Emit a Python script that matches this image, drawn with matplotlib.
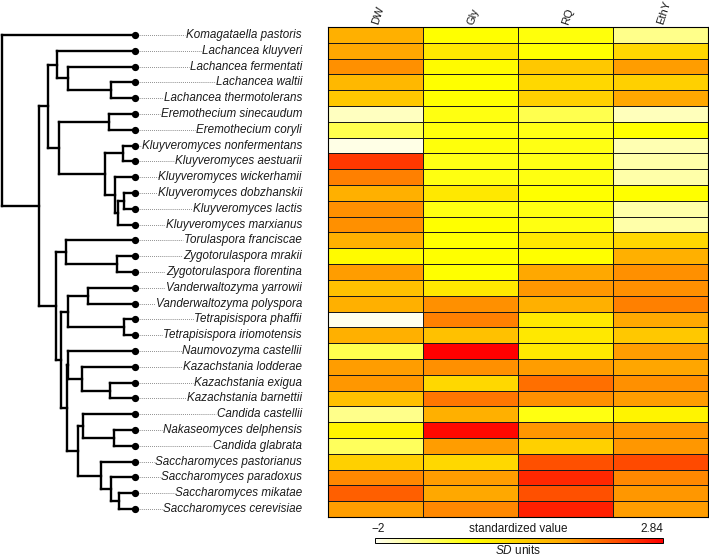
import matplotlib
matplotlib.use("Agg")
import matplotlib.pyplot as plt
import numpy as np
from matplotlib.colors import LinearSegmentedColormap, Normalize
from matplotlib.cm import ScalarMappable
from matplotlib.transforms import offset_copy

plt.rcParams['font.family'] = ['Liberation Sans', 'DejaVu Sans']
plt.rcParams['mathtext.fontset'] = 'custom'
plt.rcParams['mathtext.it'] = 'Liberation Sans:italic'
plt.rcParams['mathtext.rm'] = 'Liberation Sans'

# ---------------- data ----------------
tree_newick = ("(Komagataella_pastoris:133,(((Lachancea_kluyveri:78,(Lachancea_fermentati:67,"
               "(Lachancea_waltii:24,Lachancea_thermotolerans:24):43):11):9,((Eremothecium_sinecaudum:26,"
               "Eremothecium_coryli:26):50,((Kluyveromyces_nonfermentans:12,Kluyveromyces_aestuarii:12):18,"
               "(Kluyveromyces_wickerhamii:20,((Kluyveromyces_dobzhanskii:11,Kluyveromyces_lactis:11):6,"
               "Kluyveromyces_marxianus:17):3):10):46):11):9,((Torulaspora_franciscae:69,"
               "(Zygotorulaspora_mrakii:18,Zygotorulaspora_florentina:18):51):10,(((Vanderwaltozyma_yarrowii:47,"
               "Vanderwaltozyma_polyspora:47):20,(Tetrapisispora_phaffii:11,Tetrapisispora_iriomotensis:11):56):7,"
               "((Naumovozyma_castellii:67,(Kazachstania_lodderae:53,(Kazachstania_exigua:25,"
               "Kazachstania_barnettii:25):28):14):1,((Candida_castellii:52,(Nakaseomyces_delphensis:21,"
               "Candida_glabrata:21):31):5,(Saccharomyces_pastorianus:34,(Saccharomyces_paradoxus:24,"
               "(Saccharomyces_mikatae:16,Saccharomyces_cerevisiae:16):8):10):23):11):6):5):17):37);")

traits = ["DW", "Gly", "RQ", "EthY"]
dw = [1.03, 1.17, 1.43, 0.88, 0.60, -1.65, -0.89, -1.90, 2.29, 1.59, 1.03, 1.43, 1.43, 1.03, -0.30, 1.30,
      0.74, 1.03, -1.95, 1.03, -0.90, 1.30, 1.35, 0.74, -1.30, -0.20, -0.98, 0.45, 1.50, 1.90, 1.30]
gly = [-0.39, 0.03, -0.30, -0.39, -0.39, -0.49, -0.45, -0.45, -0.51, -0.50, 0.03, -0.50, -0.39, -0.39, -0.39, -0.39,
       0.03, 1.43, 1.59, 0.74, 2.84, 1.43, 0.31, 1.67, 1.03, 2.76, 1.30, 0.31, 1.30, 1.17, 1.50]
rq = [-0.45, -0.39, 0.60, 0.31, 0.45, -0.89, -0.51, -0.51, -0.51, -0.50, -0.39, -0.50, -0.50, 0.03, -0.39, 1.17,
      1.35, 1.03, 0.03, 0.03, 0.03, 1.30, 1.75, 1.43, -0.50, 1.35, 0.45, 2.06, 2.45, 2.06, 2.52]
ethy = [-1.30, 0.31, 1.30, 0.45, 1.17, -1.61, -0.39, -1.55, -1.50, -1.50, -0.39, -1.50, -1.50, 0.31, 1.03, 1.43,
        1.43, 1.59, 1.17, 0.60, 1.30, 1.20, 1.43, 1.30, -0.20, 1.35, 1.35, 2.12, 1.50, 1.35, 1.30]
vmin, vmax = -2, 2.84

# ---------------- newick parsing ----------------
def parse_newick(s):
    s = s.strip().rstrip(';')
    pos = [0]

    def node():
        children = []
        if s[pos[0]] == '(':
            pos[0] += 1
            while True:
                children.append(node())
                if s[pos[0]] == ',':
                    pos[0] += 1
                    continue
                if s[pos[0]] == ')':
                    pos[0] += 1
                    break
        start = pos[0]
        while pos[0] < len(s) and s[pos[0]] not in ',():':
            pos[0] += 1
        name = s[start:pos[0]]
        length = 0.0
        if pos[0] < len(s) and s[pos[0]] == ':':
            pos[0] += 1
            start = pos[0]
            while pos[0] < len(s) and s[pos[0]] not in ',()':
                pos[0] += 1
            length = float(s[start:pos[0]])
        return {'name': name.replace('_', ' '), 'len': length, 'children': children}
    return node()

root = parse_newick(tree_newick)
leaves = []

def layout(n, depth):
    n['x'] = depth
    if not n['children']:
        n['y'] = len(leaves)
        leaves.append(n)
    else:
        for c in n['children']:
            layout(c, depth + c['len'])
        n['y'] = (n['children'][0]['y'] + n['children'][-1]['y']) / 2.0

layout(root, 0.0)
nleaf = len(leaves)
tip_x = max(l['x'] for l in leaves)

# ---------------- figure ----------------
W, H = 709, 558
fig = plt.figure(figsize=(W / 100, H / 100), dpi=100)

def px_axes(x0, y0, x1, y1):
    return fig.add_axes([x0 / W, 1 - y1 / H, (x1 - x0) / W, (y1 - y0) / H])

top_px, bot_px = 27, 517
heat_left, heat_right = 328, 708
txt_color = '#1a1a1a'

# tree
axt = px_axes(0, top_px, heat_left, bot_px)
axt.set_xlim(-2, heat_left - 2)
axt.set_ylim(nleaf - 0.5, -0.5)
axt.axis('off')

lw = 1.7
def draw(n):
    if n['children']:
        ys = [c['y'] for c in n['children']]
        axt.plot([n['x'], n['x']], [min(ys), max(ys)], color='black', lw=lw, solid_capstyle='projecting')
        for c in n['children']:
            axt.plot([n['x'], c['x']], [c['y'], c['y']], color='black', lw=lw, solid_capstyle='projecting')
            draw(c)
draw(root)

xs = [l['x'] for l in leaves]
ys = [l['y'] for l in leaves]
axt.plot(xs, ys, 'o', color='black', markersize=4.2, zorder=5)

label_right = tip_x + 167
texts = []
for l in leaves:
    t = axt.text(label_right, l['y'], l['name'], ha='right', va='center', fontsize=8.4,
                 style='italic', color=txt_color)
    texts.append(t)

fig.canvas.draw()
renderer = fig.canvas.get_renderer()
inv = axt.transData.inverted()
for l, t in zip(leaves, texts):
    bb = t.get_window_extent(renderer)
    left = inv.transform((bb.x0, 0))[0]
    axt.plot([tip_x + 3, left - 1], [l['y'], l['y']], color='#777777', lw=0.7,
             linestyle=(0, (0.8, 1.2)))

# heatmap
cmap = LinearSegmentedColormap.from_list('wyor', ['#FFFFF4', '#FFFF00', '#FFA500', '#FF0000'])
norm = Normalize(vmin=vmin, vmax=vmax)
mat = np.column_stack([dw, gly, rq, ethy])
axh = px_axes(heat_left, top_px, heat_right, bot_px)
axh.pcolormesh(np.arange(len(traits) + 1), np.arange(nleaf + 1), mat, cmap=cmap, norm=norm,
               edgecolors='#1a1a1a', linewidth=0.7)
axh.set_xlim(0, len(traits))
axh.set_ylim(nleaf, 0)
axh.set_xticks([])
axh.set_yticks([])
for sp in axh.spines.values():
    sp.set_linewidth(0.8)

tr = offset_copy(axh.transData, fig=fig, x=0, y=3, units='dots')
for j, name in enumerate(traits):
    axh.text(j + 0.5, 0, name, rotation=72, rotation_mode='anchor', ha='left', va='center',
             fontsize=8, transform=tr, color=txt_color)

# colorbar
cax = px_axes(375, 538, 663, 543)
cb = fig.colorbar(ScalarMappable(norm=norm, cmap=cmap), cax=cax, orientation='horizontal')
cb.set_ticks([])
cb.outline.set_linewidth(0.7)

fig.text(378 / W, 1 - 529 / H, '\u22122', ha='center', va='center', fontsize=8.5, color=txt_color)
fig.text(518 / W, 1 - 529 / H, 'standardized value', ha='center', va='center', fontsize=8.5, color=txt_color)
fig.text(663 / W, 1 - 529 / H, '2.84', ha='right', va='center', fontsize=8.5, color=txt_color)
fig.text(518 / W, 1 - 551 / H, r'$\mathit{SD}$ units', ha='center', va='center', fontsize=8.5, color=txt_color)

fig.savefig('out.png', dpi=100)
